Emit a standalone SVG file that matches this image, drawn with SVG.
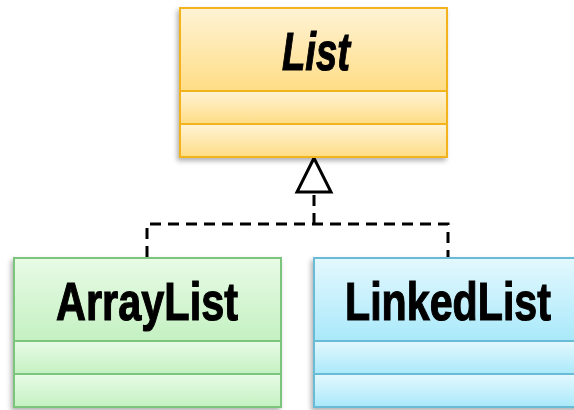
<svg xmlns="http://www.w3.org/2000/svg" width="574" height="410" viewBox="0 0 574 410">
<defs>
<linearGradient id="gy" x1="0" y1="0" x2="0" y2="1"><stop offset="0" stop-color="#fff3d6"/><stop offset="1" stop-color="#ffdd85"/></linearGradient>
<linearGradient id="gg" x1="0" y1="0" x2="0" y2="1"><stop offset="0" stop-color="#e8fbe6"/><stop offset="1" stop-color="#c4f1c2"/></linearGradient>
<linearGradient id="gb" x1="0" y1="0" x2="0" y2="1"><stop offset="0" stop-color="#e4f8fe"/><stop offset="1" stop-color="#a9e9fa"/></linearGradient>
<filter id="sh" x="-10%" y="-10%" width="120%" height="125%"><feDropShadow dx="-2" dy="3" stdDeviation="2.5" flood-color="#000" flood-opacity="0.3"/></filter>
</defs>
<style>
.y{fill:url(#gy);stroke:#f2b31b;stroke-width:2}
.g{fill:url(#gg);stroke:#7cc57c;stroke-width:2}
.b{fill:url(#gb);stroke:#6bbcd6;stroke-width:2}
.t{font-family:"Liberation Sans",Arial,sans-serif;font-weight:bold;font-size:54px;fill:#000;stroke:#000;stroke-width:1.2;text-anchor:middle}
.c{fill:none;stroke:#000;stroke-width:3}
</style>
<g id="connectors">
<path class="c" d="M147,257 V224 H448 V257 M314,224 V192" stroke-dasharray="11,7"/>
<polygon points="314,158 297,192 331,192" fill="#fff" stroke="#000" stroke-width="3"/>
</g>
<g id="List" filter="url(#sh)">
<rect class="y" x="180" y="8" width="267" height="83"/>
<rect class="y" x="180" y="91" width="267" height="33"/>
<rect class="y" x="180" y="124" width="267" height="33"/>
<text class="t" x="316" y="70" font-style="italic" textLength="68" lengthAdjust="spacingAndGlyphs">List</text>
</g>
<g id="ArrayList" filter="url(#sh)">
<rect class="g" x="14" y="258" width="267" height="83"/>
<rect class="g" x="14" y="341" width="267" height="33"/>
<rect class="g" x="14" y="374" width="267" height="33"/>
<text class="t" x="147" y="320" textLength="182" lengthAdjust="spacingAndGlyphs">ArrayList</text>
</g>
<g id="LinkedList" filter="url(#sh)">
<rect class="b" x="314" y="258" width="267" height="83"/>
<rect class="b" x="314" y="341" width="267" height="33"/>
<rect class="b" x="314" y="374" width="267" height="33"/>
<text class="t" x="448" y="320" textLength="206" lengthAdjust="spacingAndGlyphs">LinkedList</text>
</g>
</svg>
